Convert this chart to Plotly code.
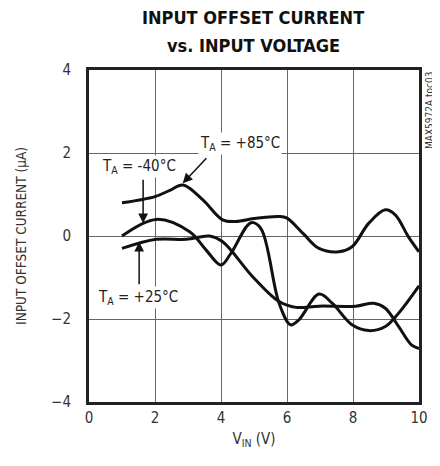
import plotly.graph_objects as go

# Data
v_85 = [1.0, 2.0, 2.45, 2.85, 3.45, 4.05, 4.45, 5.0, 5.76, 6.0, 6.5, 6.97, 7.57, 7.97, 8.48, 8.98, 9.28, 9.68, 10.0]
i_85 = [0.80, 0.95, 1.10, 1.23, 0.87, 0.39, 0.35, 0.42, 0.47, 0.43, 0.05, -0.30, -0.38, -0.26, 0.31, 0.63, 0.51, -0.02, -0.38]

v_m40 = [1.0, 2.04, 3.05, 3.55, 4.0, 4.3, 4.91, 5.21, 5.76, 6.11, 6.36, 6.97, 7.37, 7.97, 8.48, 8.98, 9.38, 10.0]
i_m40 = [0.0, 0.40, 0.10, -0.34, -0.70, -0.42, 0.32, 0.18, -1.62, -2.14, -2.02, -1.40, -1.62, -2.14, -2.28, -2.18, -1.86, -1.20]

v_25 = [1.0, 2.04, 2.95, 3.65, 4.05, 4.96, 5.76, 6.27, 6.97, 8.08, 8.63, 8.98, 9.38, 9.78, 10.0]
i_25 = [-0.30, -0.08, -0.08, 0.0, -0.14, -0.98, -1.58, -1.72, -1.69, -1.69, -1.62, -1.74, -2.18, -2.63, -2.71]

x_ticks = [0, 2, 4, 6, 8, 10]
y_ticks = [-4, -2, 0, 2, 4]

title_lines = ["INPUT OFFSET CURRENT", "vs. INPUT VOLTAGE"]
labels = ["T<sub>A</sub> = +85°C", "T<sub>A</sub> = -40°C", "T<sub>A</sub> = +25°C"]
label_pos = [(4.57, 2.24), (1.51, 1.67), (1.49, -1.49)]
arrow_tail = [(3.60, 1.91), (1.64, 1.39), (1.52, -1.20)]
arrow_tip = [(2.84, 1.27), (1.64, 0.31), (1.52, -0.14)]

FONT = "DejaVu Sans Condensed, Liberation Sans, sans-serif"

fig = go.Figure()
for v, i in [(v_85, i_85), (v_m40, i_m40), (v_25, i_25)]:
    fig.add_trace(go.Scatter(x=v, y=i, mode="lines", line=dict(color="#111", width=3, shape="spline", smoothing=1.0),
                             showlegend=False, hoverinfo="skip"))

for txt, (lx, ly) in zip(labels, label_pos):
    fig.add_annotation(x=lx, y=ly, xref="x", yref="y", text=txt, showarrow=False,
                       font=dict(family=FONT, size=15, color="#222"), bgcolor="white")
for (tx, ty), (hx, hy) in zip(arrow_tail, arrow_tip):
    fig.add_annotation(x=hx, y=hy, ax=tx, ay=ty, xref="x", yref="y", axref="x", ayref="y",
                       text="", showarrow=True, arrowhead=2, arrowsize=1.3, arrowwidth=1.5, arrowcolor="#111")

for txt, yy in zip(title_lines, [1.157, 1.075]):
    fig.add_annotation(x=0.497, y=yy, xref="paper", yref="paper", xanchor="center", yanchor="middle",
                       text="<b>" + txt + "</b>", showarrow=False,
                       font=dict(family=FONT, size=18, color="#111"))

fig.add_annotation(x=1.0, y=1.0, xref="paper", yref="paper", xanchor="left", yanchor="top", xshift=3,
                   text="MAX5972A toc03", textangle=-90, showarrow=False,
                   font=dict(family=FONT, size=10, color="#333"))

fig.update_layout(
    width=432, height=458,
    margin=dict(l=81, r=19, t=62, b=64),
    paper_bgcolor="white", plot_bgcolor="white",
    font=dict(family=FONT, size=15, color="#333"),
    xaxis=dict(range=[0, 10], tickvals=x_ticks, showgrid=True, gridcolor="#666", gridwidth=1,
               showline=True, linecolor="#222", linewidth=3, mirror=True, ticks="", zeroline=False,
               title=dict(text="V<sub>IN</sub> (V)", standoff=8, font=dict(size=15))),
    yaxis=dict(range=[-4, 4], tickvals=y_ticks, showgrid=True, gridcolor="#666", gridwidth=1,
               showline=True, linecolor="#222", linewidth=3, mirror=True, ticks="", zeroline=False,
               ticklabelstandoff=12,
               title=dict(text="INPUT OFFSET CURRENT (μA)", standoff=22, font=dict(size=13.5))),
)

fig.write_html("out.html")
